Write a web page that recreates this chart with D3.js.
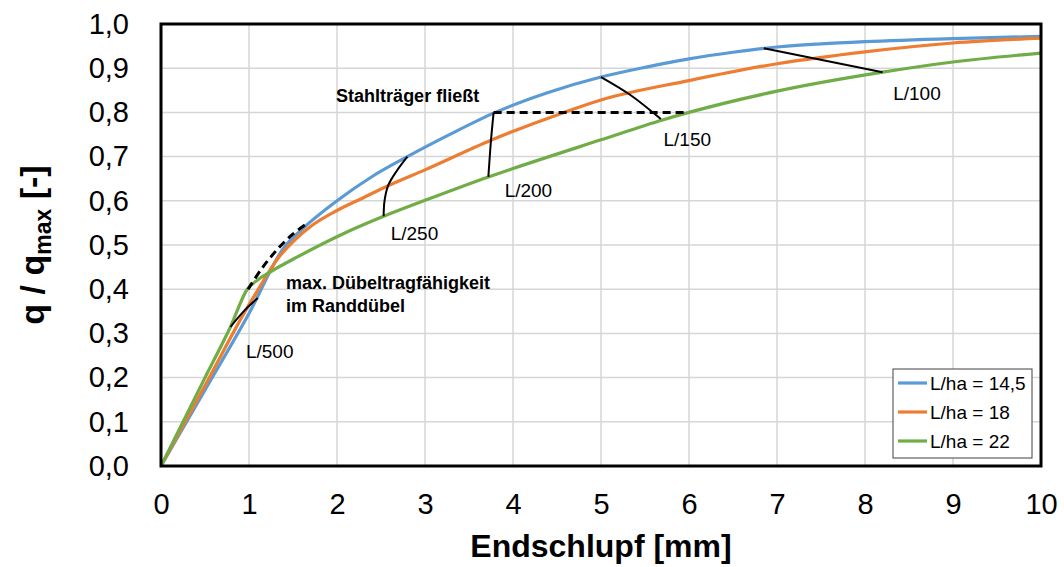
<!DOCTYPE html>
<html>
<head>
<meta charset="utf-8">
<script src="https://cdn.jsdelivr.net/npm/d3@7"></script>
<style>
  html, body { margin: 0; padding: 0; background: #fff; }
  svg { display: block; font-family: "Liberation Sans", Arial, sans-serif; }
</style>
</head>
<body>
<svg id="chart" width="1064" height="567"></svg>
<script>
// Load-slip curves, q/qmax over end slip [mm]
const seriesNames = ["L/ha = 14,5", "L/ha = 18", "L/ha = 22"];
const seriesColors = ["#5B9BD5", "#ED7D31", "#70AD47"];

const xBlue  = [0, 0.5, 1.0, 1.4, 1.6, 2.0, 2.4, 2.8, 3.3, 3.8, 4.4, 5.0, 5.5, 6.0, 6.5, 7.0, 7.5, 8.0, 9.0, 10];
const yBlue  = [0, 0.172, 0.345, 0.495, 0.535, 0.60, 0.655, 0.70, 0.752, 0.80, 0.845, 0.88, 0.902, 0.921, 0.936, 0.948, 0.955, 0.960, 0.967, 0.972];

const xOrange = [0, 0.5, 1.0, 1.1, 1.33, 1.55, 1.7, 2.0, 2.3, 2.58, 3.0, 3.75, 4.58, 5.0, 6.0, 7.0, 8.0, 9.0, 10];
const yOrange = [0, 0.182, 0.365, 0.398, 0.470, 0.517, 0.542, 0.578, 0.607, 0.634, 0.670, 0.737, 0.80, 0.828, 0.872, 0.910, 0.937, 0.957, 0.968];

const xGreen = [0, 0.5, 0.79, 0.98, 1.1, 1.25, 1.55, 2.12, 2.53, 3.0, 3.72, 4.0, 5.0, 5.7, 6.0, 7.0, 8.2, 9.0, 10];
const yGreen = [0, 0.200, 0.315, 0.400, 0.421, 0.440, 0.473, 0.530, 0.565, 0.601, 0.654, 0.673, 0.738, 0.783, 0.800, 0.848, 0.891, 0.914, 0.934];

// Deflection limit markers (L/500 ... L/100) connecting the curves
const markL500 = [[0.79, 0.315], [0.95, 0.352], [1.10, 0.38]];
const markL250 = [[2.80, 0.70], [2.68, 0.668], [2.58, 0.634], [2.54, 0.60], [2.53, 0.565]];
const markL200 = [[3.78, 0.80], [3.75, 0.737], [3.72, 0.654]];
const markL150 = [[5.0, 0.88], [5.33, 0.84], [5.68, 0.785]];
const markL100 = [[6.85, 0.945], [8.2, 0.891]];
const markLabels = ["L/500", "L/250", "L/200", "L/150", "L/100"];
const markLabelPos = [[0.965, 0.244], [2.61, 0.511], [3.905, 0.609], [5.71, 0.724], [8.32, 0.828]];

// Dashed markers: max. stud capacity at end stud, and steel beam yielding
const dashDuebel = [[0.99, 0.40], [1.15, 0.448], [1.33, 0.492], [1.5, 0.525], [1.67, 0.55]];
const dashStahl = [[3.78, 0.80], [5.94, 0.80]];

const xTicks = [0, 1, 2, 3, 4, 5, 6, 7, 8, 9, 10];
const yTicks = [0, 0.1, 0.2, 0.3, 0.4, 0.5, 0.6, 0.7, 0.8, 0.9, 1.0];

const svg = d3.select("#chart");
const plot = { left: 161, right: 1041, top: 24, bottom: 466 };

const x = d3.scaleLinear().domain([0, 10]).range([plot.left, plot.right]);
const y = d3.scaleLinear().domain([0, 1]).range([plot.bottom, plot.top]);

// Grid
svg.append("g").selectAll("line").data(xTicks.slice(1, -1)).join("line")
  .attr("x1", d => x(d)).attr("x2", d => x(d))
  .attr("y1", plot.top).attr("y2", plot.bottom)
  .attr("stroke", "#d6d6d6").attr("stroke-width", 1.5);
svg.append("g").selectAll("line").data(yTicks.slice(1, -1)).join("line")
  .attr("x1", plot.left).attr("x2", plot.right)
  .attr("y1", d => y(d)).attr("y2", d => y(d))
  .attr("stroke", "#d6d6d6").attr("stroke-width", 1.5);

// Axes (labels only; the frame is drawn as a rectangle)
const fmt = d => d3.format(".1f")(d).replace(".", ",");
const xAxis = svg.append("g").attr("transform", `translate(0,${plot.bottom})`)
  .call(d3.axisBottom(x).tickValues(xTicks).tickSize(0).tickPadding(27).tickFormat(d3.format("d")));
const yAxis = svg.append("g").attr("transform", `translate(${plot.left},0)`)
  .call(d3.axisLeft(y).tickValues(yTicks).tickSize(0).tickPadding(32).tickFormat(fmt));
[xAxis, yAxis].forEach(g => {
  g.select(".domain").remove();
  g.selectAll("text").attr("font-size", 29).attr("fill", "#000")
    .attr("font-family", "Liberation Sans, Arial, sans-serif");
});

// Curves
const line = d3.line().x(d => x(d[0])).y(d => y(d[1])).curve(d3.curveMonotoneX);
const series = [
  d3.zip(xBlue, yBlue),
  d3.zip(xOrange, yOrange),
  d3.zip(xGreen, yGreen)
];
svg.append("clipPath").attr("id", "plotclip").append("rect")
  .attr("x", plot.left).attr("y", plot.top)
  .attr("width", plot.right - plot.left).attr("height", plot.bottom - plot.top);
svg.append("g").attr("clip-path", "url(#plotclip)")
  .selectAll("path").data(series).join("path")
  .attr("d", line).attr("fill", "none")
  .attr("stroke", (d, i) => seriesColors[i]).attr("stroke-width", 3.2)
  .attr("stroke-linejoin", "round");

// Marker lines
const smooth = d3.line().x(d => x(d[0])).y(d => y(d[1])).curve(d3.curveCatmullRom);
svg.append("g").selectAll("path")
  .data([markL500, markL250, markL200, markL150, markL100]).join("path")
  .attr("d", smooth).attr("fill", "none").attr("stroke", "#000").attr("stroke-width", 2);
svg.append("g").selectAll("path").data([dashDuebel, dashStahl]).join("path")
  .attr("d", smooth).attr("fill", "none").attr("stroke", "#000")
  .attr("stroke-width", 3).attr("stroke-dasharray", "8,5");

svg.append("g").selectAll("text").data(markLabels).join("text")
  .attr("x", (d, i) => x(markLabelPos[i][0])).attr("y", (d, i) => y(markLabelPos[i][1]))
  .attr("font-size", 19).attr("fill", "#000").text(d => d);

// Annotations
svg.append("text").attr("x", x(1.99)).attr("y", y(0.824))
  .attr("font-size", 18).attr("font-weight", "bold").text("Stahlträger fließt");
const ann = svg.append("text").attr("x", x(1.42)).attr("y", y(0.400))
  .attr("font-size", 18).attr("font-weight", "bold");
ann.append("tspan").text("max. Dübeltragfähigkeit");
ann.append("tspan").attr("x", x(1.42)).attr("dy", 23).text("im Randdübel");

// Plot frame
svg.append("rect").attr("x", plot.left).attr("y", plot.top)
  .attr("width", plot.right - plot.left).attr("height", plot.bottom - plot.top)
  .attr("fill", "none").attr("stroke", "#000").attr("stroke-width", 3);

// Axis titles
svg.append("text").attr("x", (plot.left + plot.right) / 2).attr("y", 557)
  .attr("text-anchor", "middle").attr("font-size", 32).attr("font-weight", "bold")
  .text("Endschlupf [mm]");
const yt = svg.append("text").attr("transform", `translate(44,${(plot.top + plot.bottom) / 2}) rotate(-90)`)
  .attr("text-anchor", "middle").attr("font-size", 34).attr("font-weight", "bold");
yt.append("tspan").text("q / q");
yt.append("tspan").attr("font-size", 23).attr("dy", 7).text("max");
yt.append("tspan").attr("dy", -7).text(" [-]");

// Legend
const lg = svg.append("g").attr("transform", "translate(893,369)");
lg.append("rect").attr("width", 139).attr("height", 89)
  .attr("fill", "#fff").attr("stroke", "#404040").attr("stroke-width", 1);
seriesNames.forEach((name, i) => {
  const row = lg.append("g").attr("transform", `translate(0,${14 + i * 29})`);
  row.append("line").attr("x1", 5).attr("x2", 34).attr("y1", 0).attr("y2", 0)
    .attr("stroke", seriesColors[i]).attr("stroke-width", 3.2);
  row.append("text").attr("x", 37).attr("y", 0).attr("dy", "0.35em")
    .attr("font-size", 19).text(name);
});
</script>
</body>
</html>
